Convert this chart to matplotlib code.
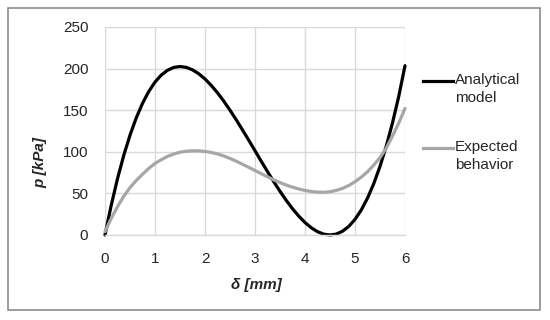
import matplotlib
matplotlib.use("Agg")
import matplotlib.pyplot as plt
from matplotlib.patches import Rectangle
from matplotlib.lines import Line2D

plt.rcParams['font.family'] = ['Liberation Sans', 'DejaVu Sans']

# Data (step 0.125 mm)
delta_mm = [0, 0.125, 0.25, 0.375, 0.5, 0.625, 0.75, 0.875, 1.0, 1.125, 1.25, 1.375,
            1.5, 1.625, 1.75, 1.875, 2.0, 2.125, 2.25, 2.375, 2.5, 2.625, 2.75, 2.875,
            3.0, 3.125, 3.25, 3.375, 3.5, 3.625, 3.75, 3.875, 4.0, 4.125, 4.25, 4.375,
            4.5, 4.625, 4.75, 4.875, 5.0, 5.125, 5.25, 5.375, 5.5, 5.625, 5.75, 5.875, 6.0]
analytical_kpa = [0, 35.9, 67.7, 95.7, 120, 140.8, 158.2, 172.5, 183.8, 192.2, 198.0,
                  201.4, 202.5, 201.5, 198.5, 193.8, 187.5, 179.8, 170.9, 160.9, 150,
                  138.4, 126.3, 113.9, 101.3, 88.6, 76.2, 64.1, 52.5, 41.6, 31.6, 22.7,
                  15, 8.7, 4.0, 1.0, 0, 1.1, 4.5, 10.3, 18.8, 30.0, 44.3, 61.7, 82.5,
                  106.8, 134.8, 166.6, 203.5]
expected_kpa = [4, 20, 34, 46.5, 57, 65.5, 73, 80, 86, 90.5, 94.5, 97.3, 99.5, 100.7,
                101.2, 101.1, 100.5, 99.2, 97.5, 95, 92, 88.7, 85, 81.3, 77.5, 73.7, 70,
                66.3, 63, 60, 57.5, 55.3, 53.5, 52.3, 51.5, 51.4, 52, 53.6, 56, 59.5,
                64, 69.5, 76, 84, 93, 104.5, 119, 134.5, 152]
series_labels = ["Analytical\nmodel", "Expected\nbehavior"]
x_ticks = [0, 1, 2, 3, 4, 5, 6]
y_ticks = [0, 50, 100, 150, 200, 250]
x_label = "δ [mm]"
y_label = "p [kPa]"

W, H = 550, 320
fig = plt.figure(figsize=(W / 100, H / 100), dpi=100)
fig.patch.set_facecolor("white")

# outer chart border
fig.add_artist(Rectangle((8 / W, 1 - 310 / H), (540 - 8) / W, (310 - 8) / H,
                         transform=fig.transFigure, fill=False,
                         edgecolor="#8c8c8c", linewidth=1.2))

ax = fig.add_axes([105 / W, 1 - 235 / H, (405 - 105) / W, (235 - 27) / H])
ax.set_xlim(0, 6)
ax.set_ylim(0, 250)
ax.set_xticks(x_ticks)
ax.set_yticks(y_ticks)
ax.grid(True, color="#d9d9d9", linewidth=1.0)
ax.set_axisbelow(True)
for s in ["top", "right", "left"]:
    ax.spines[s].set_visible(False)
ax.spines["bottom"].set_color("#d9d9d9")
ax.spines["bottom"].set_linewidth(1.0)
ax.tick_params(length=0, labelsize=11, colors="#262626", pad=12)

l1, = ax.plot(delta_mm, analytical_kpa, color="black", linewidth=2.3,
              solid_capstyle="round", solid_joinstyle="round", clip_on=False)
l2, = ax.plot(delta_mm, expected_kpa, color="#a6a6a6", linewidth=2.3,
              solid_capstyle="round", solid_joinstyle="round", clip_on=False)

fig.text(256 / W, 1 - 285 / H, x_label, ha="center", va="center",
         fontsize=11, fontweight="bold", fontstyle="italic", color="#262626")
fig.text(40 / W, 1 - 162 / H, y_label, ha="center", va="center", rotation=90,
         fontsize=11, fontweight="bold", fontstyle="italic", color="#262626")

# legend (manual, matching Excel layout)
for line, label, yh in [(l1, series_labels[0], 81), (l2, series_labels[1], 148)]:
    fig.add_artist(Line2D([423 / W, 453 / W], [1 - yh / H, 1 - yh / H],
                          transform=fig.transFigure, color=line.get_color(),
                          linewidth=2.3))
    fig.text(455 / W, 1 - (yh - 8) / H, label, ha="left", va="top",
             fontsize=11, color="#262626", linespacing=1.4)

fig.savefig("out.png", dpi=100, facecolor="white")
